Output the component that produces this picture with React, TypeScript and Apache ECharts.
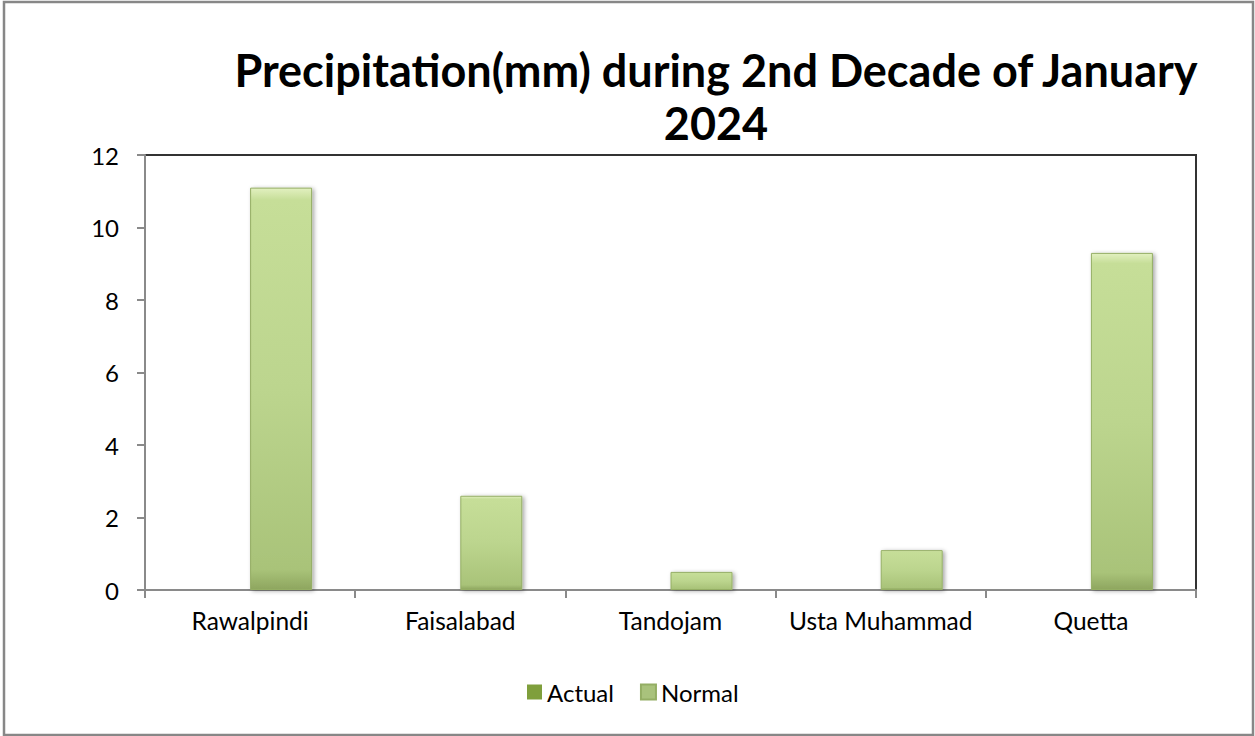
import React, { useEffect, useRef } from "react";
import * as echarts from "echarts";

const categories = ["Rawalpindi", "Faisalabad", "Tandojam", "Usta Muhammad", "Quetta"];
const actualValues = [0, 0, 0, 0, 0];
const normalValues = [11.1, 2.6, 0.5, 1.1, 9.3];
const yTicks = { min: 0, max: 12, interval: 2 };
const titleLine1 = "Precipitation(mm) during 2nd Decade of January";
const titleLine2 = "2024";

export default function App() {
  const ref = useRef<HTMLDivElement>(null);
  useEffect(() => {
    document.body.style.margin = "0";
    const chart = echarts.init(ref.current!, null, { renderer: "svg" });
    const font = "Lato";
    const normalFill = new echarts.graphic.LinearGradient(0, 0, 0, 1, [
      { offset: 0, color: "#e2f0c0" },
      { offset: 0.03, color: "#c6de98" },
      { offset: 0.5, color: "#bcd58e" },
      { offset: 0.95, color: "#a9c379" },
      { offset: 1, color: "#8ea65f" },
    ]);
    const actualFill = new echarts.graphic.LinearGradient(0, 0, 0, 1, [
      { offset: 0, color: "#9dbb55" },
      { offset: 1, color: "#6f8c30" },
    ]);
    chart.setOption({
      animation: false,
      backgroundColor: "#ffffff",
      textStyle: { fontFamily: font },
      graphic: [
        {
          type: "rect",
          shape: { x: 4, y: 2, width: 1249, height: 733 },
          style: { fill: "none", stroke: "#878787", lineWidth: 2.5 },
          silent: true,
        },
        {
          type: "text",
          x: 716,
          y: 70,
          style: {
            text: titleLine1,
            fontFamily: font,
            fontWeight: "bold",
            fontSize: 45,
            fill: "#000",
            textAlign: "center",
            textVerticalAlign: "middle",
          },
        },
        {
          type: "text",
          x: 716,
          y: 123,
          style: {
            text: titleLine2,
            fontFamily: font,
            fontWeight: "bold",
            fontSize: 45,
            fill: "#000",
            textAlign: "center",
            textVerticalAlign: "middle",
          },
        },
      ],
      grid: {
        left: 145,
        right: 59,
        top: 155,
        bottom: 146,
        show: true,
        borderColor: "#333333",
        borderWidth: 2,
      },
      legend: {
        bottom: 27,
        left: 522,
        itemWidth: 15,
        itemHeight: 15,
        itemGap: 26,
        icon: "rect",
        textStyle: { fontFamily: font, fontSize: 24, color: "#000", padding: [0, 0, 0, 0] },
        data: [
          { name: "Actual", itemStyle: { color: "#7f9f3c" } },
          { name: "Normal", itemStyle: { color: "#a9c27c" } },
        ],
      },
      xAxis: {
        type: "category",
        data: categories,
        axisLine: { lineStyle: { color: "#8a8a8a", width: 2 } },
        axisTick: { show: true, length: 8, interval: 0, lineStyle: { color: "#8a8a8a", width: 2 } },
        axisLabel: { fontFamily: font, fontSize: 24.5, color: "#000", margin: 18, interval: 0 },
      },
      yAxis: {
        type: "value",
        min: yTicks.min,
        max: yTicks.max,
        interval: yTicks.interval,
        splitLine: { show: false },
        axisLine: { show: true, lineStyle: { color: "#8a8a8a", width: 2 } },
        axisTick: { show: true, length: 8, lineStyle: { color: "#8a8a8a", width: 2 } },
        axisLabel: { fontFamily: font, fontSize: 24, color: "#000", margin: 26 },
      },
      series: [
        {
          name: "Actual",
          type: "bar",
          data: actualValues,
          barWidth: 62,
          barGap: "0%",
          itemStyle: { color: actualFill },
        },
        {
          name: "Normal",
          type: "bar",
          data: normalValues,
          barWidth: 62,
          barGap: "0%",
          itemStyle: {
            color: normalFill,
            borderColor: "#94ae64",
            borderWidth: 1,
            shadowColor: "rgba(0,0,0,0.35)",
            shadowBlur: 4,
            shadowOffsetX: 2,
            shadowOffsetY: 1,
          },
        },
      ],
    });
    return () => chart.dispose();
  }, []);
  return <div ref={ref} style={{ width: 1255, height: 736 }} />;
}
